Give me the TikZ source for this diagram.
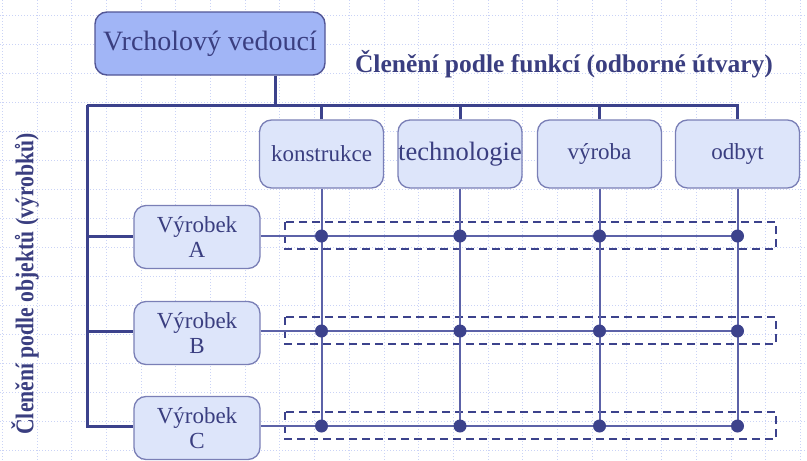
\documentclass[tikz,border=0pt]{standalone}
\usepackage{fontspec}
\setmainfont{Liberation Serif}
\definecolor{topfill}{RGB}{161,181,246}
\definecolor{topline}{RGB}{82,86,150}
\definecolor{boxfill}{RGB}{221,229,250}
\definecolor{boxline}{RGB}{122,127,182}
\definecolor{busline}{RGB}{60,66,140}
\definecolor{linkline}{RGB}{92,98,168}
\definecolor{txt}{RGB}{58,62,128}
\definecolor{gridbg}{RGB}{202,211,246}
\begin{document}
\begin{tikzpicture}[x=1pt,y=-1pt,
  every node/.style={text=txt},
  topbox/.style={draw=topline, fill=topfill, rounded corners=12pt, line width=1.4pt,
    minimum width=230pt, minimum height=63pt, inner sep=0pt,
    font=\fontsize{28}{30}\selectfont},
  funbox/.style={draw=boxline, fill=boxfill, rounded corners=12pt, line width=1.3pt,
    minimum width=124pt, minimum height=68pt, inner sep=0pt,
    font=\fontsize{23}{25}\selectfont},
  prodbox/.style={draw=boxline, fill=boxfill, rounded corners=12pt, line width=1.3pt,
    minimum width=126pt, minimum height=63pt, inner sep=0pt, align=center,
    font=\fontsize{23}{25}\selectfont},
  bus/.style={draw=busline, line width=3pt},
  link/.style={draw=linkline, line width=2pt},
  rowframe/.style={draw=busline, dash pattern=on 8pt off 5pt, line width=1.5pt},
  joint/.style={circle, fill=busline, inner sep=0pt, minimum size=13pt},
  bggrid/.style={draw=gridbg, line width=1pt, dash pattern=on 1pt off 2pt}
]
\useasboundingbox (0,0) rectangle (807,461);

% dotted background grid
\foreach \i in {0,...,23} \draw[bggrid] (2.3+34.7*\i,0) -- ++(0,461);
\foreach \j in {0,...,15} \draw[bggrid] (0,15+29*\j) -- ++(807,0);

% headings
\node[font=\bfseries\fontsize{25.5}{28}\selectfont] (head) at (564,64)
  {Členění podle funkcí (odborné útvary)};
\node[rotate=90, font=\bfseries\fontsize{25.5}{28}\selectfont] (side) at (25,284)
  {\scalebox{0.85}[1]{Členění podle objektů (výrobků)}};

% boxes
\node[topbox] (top) at (210,43.5) {Vrcholový vedoucí};
\node[funbox] (k) at (321.5,154) {konstrukce};
\node[funbox, font=\fontsize{26.5}{28}\selectfont] (t) at (460,154) {technologie};
\node[funbox] (v) at (599.5,154) {výroba};
\node[funbox] (o) at (737.5,154) {odbyt};
\node[prodbox] (pA) at (197,237) {Výrobek\\A};
\node[prodbox] (pB) at (197,333) {Výrobek\\B};
\node[prodbox] (pC) at (197,428) {Výrobek\\C};

% dashed row frames
\draw[rowframe] (285,222) rectangle (776,249);
\draw[rowframe] (285,317) rectangle (776,344);
\draw[rowframe] (285,412) rectangle (776,439);

% hierarchy lines
\coordinate (drop) at (275,105);
\coordinate (busL) at (87,105);
\coordinate (rA) at (0,236);
\coordinate (rB) at (0,331);
\coordinate (rC) at (0,426);
\draw[bus] (top.south -| drop) -- (drop);
\draw[bus] (busL) -| (o.north);
\foreach \n in {k,t,v} \draw[bus] (\n.north |- busL) -- (\n.north);
\draw[bus] (busL) |- (pC.west |- rC);
\draw[bus] (busL |- rA) -- (pA.west |- rA);
\draw[bus] (busL |- rB) -- (pB.west |- rB);

% matrix links
\foreach \n in {k,t,v,o} \draw[link] (\n.south) -- (\n.south |- rC);
\foreach \p/\r in {pA/rA,pB/rB,pC/rC} {
  \draw[link] (\p.east |- \r) -- (o.south |- \r);
  \foreach \n in {k,t,v,o} \node[joint] (j-\p-\n) at (\n.south |- \r) {};
}
\end{tikzpicture}
\end{document}
